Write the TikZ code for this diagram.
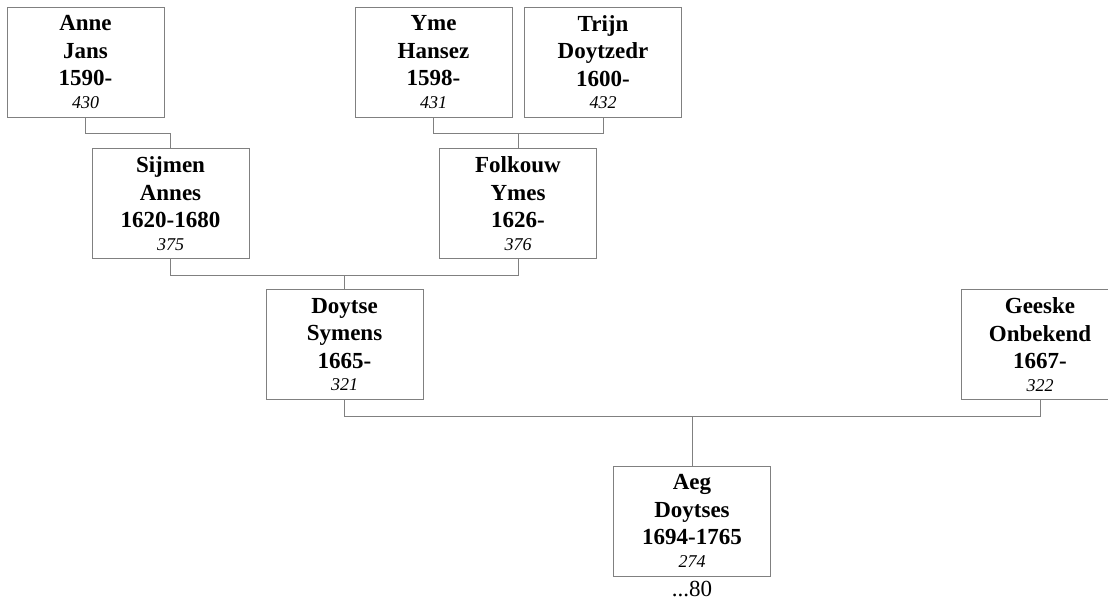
\documentclass[tikz,border=0pt]{standalone}
\usepackage{fontspec}
\setmainfont{Liberation Serif}
\usetikzlibrary{calc}
\tikzset{
  person/.style={draw=black!50, line width=0.9pt, minimum width=157pt, minimum height=110pt,
    inner sep=0pt, align=center, font=\fontsize{23}{27.5}\selectfont\bfseries},
  conn/.style={draw=black!50, line width=0.9pt},
}
\newcommand{\idno}[1]{\\[-5pt]{\fontsize{18}{21}\selectfont\mdseries\itshape #1}}
\begin{document}
\begin{tikzpicture}[x=1pt,y=-1pt]
\useasboundingbox (0,0) rectangle (1108,604);
\node[person] (anne) at (85.5,62) {Anne\\Jans\\1590-\idno{430}};
\node[person] (yme) at (433.5,62) {Yme\\Hansez\\1598-\idno{431}};
\node[person] (trijn) at (603,62) {Trijn\\Doytzedr\\1600-\idno{432}};
\node[person] (sijmen) at (170.5,203.5) {Sijmen\\Annes\\1620-1680\idno{375}};
\node[person] (folk) at (518,203.5) {Folkouw\\Ymes\\1626-\idno{376}};
\node[person] (doytse) at (344.5,344.5) {Doytse\\Symens\\1665-\idno{321}};
\node[person] (geeske) at (1040,344.5) {Geeske\\Onbekend\\1667-\idno{322}};
\node[person] (aeg) at (692,521) {Aeg\\Doytses\\1694-1765\idno{274}};
\node[font=\fontsize{23}{27}\selectfont, inner sep=0pt] (more) at (692,589) {...80};
% connectors
\coordinate (j1) at ($(anne.south)+(0,16)$);
\draw[conn] (anne.south) -- (j1) -| (sijmen.north);
\coordinate (j2) at ($(yme.south)+(0,16)$);
\draw[conn] (yme.south) -- (j2) -| (trijn.south);
\draw[conn] (folk.north) -- (folk.north |- j2);
\coordinate (j3) at ($(sijmen.south)+(0,16)$);
\draw[conn] (sijmen.south) -- (j3) -| (folk.south);
\draw[conn] (doytse.north) -- (doytse.north |- j3);
\coordinate (j4) at ($(doytse.south)+(0,16)$);
\draw[conn] (doytse.south) -- (j4) -| (geeske.south);
\draw[conn] (aeg.north) -- (aeg.north |- j4);
\end{tikzpicture}
\end{document}
